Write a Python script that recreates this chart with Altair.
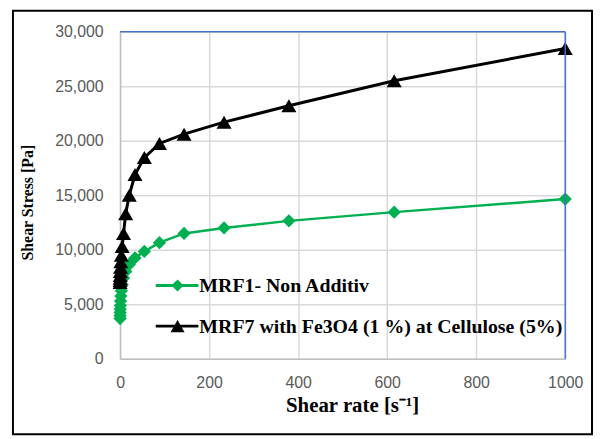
import altair as alt
import pandas as pd

# Shear rate [1/s] (log-spaced measurement points)
shear_rate = [0.1, 0.162, 0.264, 0.428, 0.695, 1.13, 1.83, 2.98, 4.83, 7.85,
              12.7, 20.7, 33.6, 54.6, 88.6, 143.8, 233.6, 379.3, 615.8, 1000]

# MRF1- Non Additiv
mrf1_stress = [3700, 3950, 4250, 4550, 4900, 5300, 5750, 6250, 6800, 7400,
               8000, 8650, 9250, 9850, 10650, 11500, 12000, 12650, 13450, 14650]

# MRF7 with Fe3O4 (1 %) at Cellulose (5%)
mrf7_stress = [7000, 7200, 7400, 7650, 8000, 8400, 8900, 9500, 10300, 11500,
               13300, 15000, 16900, 18450, 19750, 20600, 21700, 23200, 25500, 28450]

series_names = ["MRF1- Non Additiv", "MRF7 with Fe3O4 (1 %) at Cellulose (5%)"]
series_colors = ["#00B050", "#000000"]

x_ticks = [0, 200, 400, 600, 800, 1000]
y_ticks = [0, 5000, 10000, 15000, 20000, 25000, 30000]

W, H = 449, 330

df1 = pd.DataFrame({"rate": shear_rate, "stress": mrf1_stress})
df2 = pd.DataFrame({"rate": shear_rate, "stress": mrf7_stress})
one = pd.DataFrame({"k": [0]})

x_enc = alt.X(
    "rate:Q",
    scale=alt.Scale(domain=[0, 1000], nice=False, zero=True),
    axis=alt.Axis(
        values=x_ticks, format="d", title="Shear rate [s⁻¹]", grid=True, gridColor="#d9d9d9",
        gridWidth=1.5, ticks=False, domainColor="#bfbfbf", domainWidth=1.5,
        labelFont="Liberation Sans", labelFontSize=16, labelColor="#595959",
        labelPadding=16, labelFlush=False,
        titleFont="Liberation Serif", titleFontSize=21, titleFontWeight="bold",
        titleColor="#000000", titlePadding=4, titleX=234,
    ),
)
y_enc = alt.Y(
    "stress:Q",
    scale=alt.Scale(domain=[0, 30000], nice=False),
    axis=alt.Axis(
        values=y_ticks, format=",.0f", title="Shear Stress [Pa]", grid=True,
        gridColor="#d9d9d9", gridWidth=1.5, ticks=False, domainColor="#bfbfbf",
        domainWidth=1.5, labelFont="Liberation Sans", labelFontSize=16,
        labelColor="#595959", labelPadding=17,
        titleFont="Liberation Serif", titleFontSize=16, titleFontWeight="bold",
        titleColor="#000000", titleX=-93, titleY=172, titleAlign="center",
        titleBaseline="middle", titleAngle=270,
    ),
)

green_line = alt.Chart(df1).mark_line(color=series_colors[0], strokeWidth=2.5).encode(x=x_enc, y=y_enc)
green_pts = alt.Chart(df1).mark_point(shape="diamond", filled=True, size=180, opacity=1,
                                      color=series_colors[0]).encode(x="rate:Q", y="stress:Q")
black_line = alt.Chart(df2).mark_line(color=series_colors[1], strokeWidth=3).encode(x="rate:Q", y="stress:Q")
black_pts = alt.Chart(df2).mark_point(shape="triangle-up", filled=True, size=230, opacity=1,
                                      color=series_colors[1]).encode(x="rate:Q", y="stress:Q")

# plot-area border: blue top and right edges
top_rule = alt.Chart(one).mark_rule(color="#4472C4", strokeWidth=1.5).encode(
    x=alt.value(0), x2=alt.value(W), y=alt.value(0))
right_rule = alt.Chart(one).mark_rule(color="#4472C4", strokeWidth=1.5).encode(
    x=alt.value(W), y=alt.value(0), y2=alt.value(H))

# legend inside plot
leg_layers = []
leg_rows = [256, 297]
leg_shapes = ["diamond", "triangle-up"]
leg_sizes = [150, 200]
for name, col, ry, shp, sz in zip(series_names, series_colors, leg_rows, leg_shapes, leg_sizes):
    leg_layers.append(alt.Chart(one).mark_rule(color=col, strokeWidth=3).encode(
        x=alt.value(36), x2=alt.value(79), y=alt.value(ry)))
    leg_layers.append(alt.Chart(one).mark_point(shape=shp, filled=True, size=sz, opacity=1, color=col).encode(
        x=alt.value(58), y=alt.value(ry)))
    leg_layers.append(alt.Chart(one).mark_text(
        text=name, align="left", baseline="middle", font="Liberation Serif",
        fontSize=20, fontWeight="bold", color="#000000").encode(
        x=alt.value(80), y=alt.value(ry + 1)))

frame = alt.Chart(one).mark_rect(fill=None, stroke="#000000", strokeWidth=2).encode(
    x=alt.value(-108), x2=alt.value(476), y=alt.value(-21), y2=alt.value(406))

chart = alt.layer(
    green_line, green_pts, black_line, black_pts, top_rule, right_rule, *leg_layers, frame
).properties(
    width=W, height=H,
    autosize=alt.AutoSizeParams(type="none"),
    padding={"left": 113, "top": 22, "right": 28, "bottom": 77},
    background="white",
).configure_view(stroke=None)

chart.save("out.html", embed_options={"renderer": "svg", "actions": False})
